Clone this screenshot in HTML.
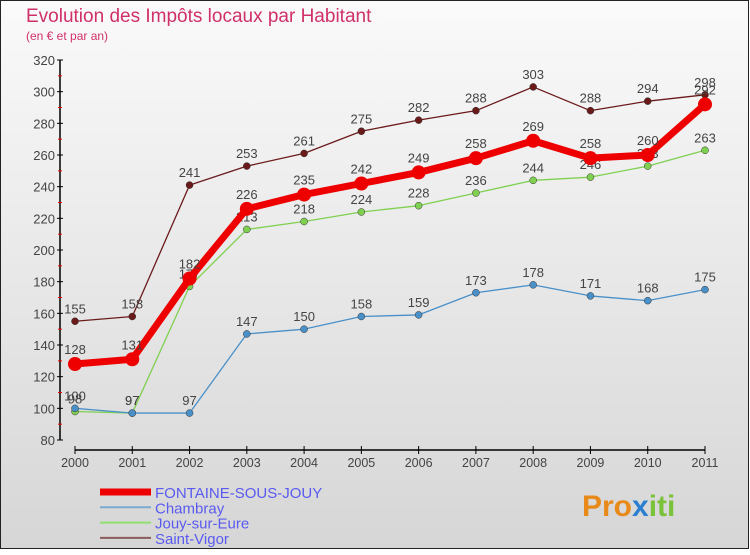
<!DOCTYPE html>
<html><head><meta charset="utf-8"><style>
body{margin:0;width:750px;height:550px;overflow:hidden;font-family:"Liberation Sans",sans-serif}
</style></head><body>
<svg width="750" height="550" xmlns="http://www.w3.org/2000/svg">
<defs><linearGradient id="bg" x1="0" y1="0" x2="0" y2="1"><stop offset="0" stop-color="#fafafa"/><stop offset="1" stop-color="#d6d6d6"/></linearGradient></defs>
<rect x="0.5" y="0.5" width="748" height="548" fill="url(#bg)" stroke="#222"/>
<text x="26" y="22" font-size="19" fill="#d0306a">Evolution des Impôts locaux par Habitant</text>
<text x="26" y="40" font-size="12" fill="#d0306a">(en € et par an)</text>
<g id="axes"></g>
<g id="series"></g>
<g id="legend"></g>
<text x="582" y="516" font-size="30" font-weight="bold" fill="#e88a1a">Pro<tspan fill="#2a7fd0">x</tspan><tspan fill="#7ac23a">iti</tspan></text>
</svg>
<script>
const years=["2000","2001","2002","2003","2004","2005","2006","2007","2008","2009","2010","2011"];
const fontaine=[128,131,182,226,235,242,249,258,269,258,260,292];
const chambray=[100,97,97,147,150,158,159,173,178,171,168,175];
const jouy=[98,97,177,213,218,224,228,236,244,246,253,263];
const vigor=[155,158,241,253,261,275,282,288,303,288,294,298];
const yTicks=[80,100,120,140,160,180,200,220,240,260,280,300,320];
const NS="http://www.w3.org/2000/svg";
const X=i=>75+i*(630/11);
const Y=v=>440-(v-80)*380/240;
function mk(t,a,p){const e=document.createElementNS(NS,t);for(const k in a)e.setAttribute(k,a[k]);p.appendChild(e);return e;}
const ax=document.getElementById('axes');
let l=mk('line',{x1:60,y1:60,x2:60,y2:440,stroke:'#000','stroke-width':1.5},ax);


l=mk('line',{x1:75,y1:450,x2:705,y2:450,stroke:'#000','stroke-width':1.5},ax);


yTicks.forEach((v,i)=>{
  mk('line',{x1:57,y1:Y(v),x2:63,y2:Y(v),stroke:'#000'},ax);
  if(i<yTicks.length-1) mk('line',{x1:58,y1:Y(v+10),x2:62,y2:Y(v+10),stroke:'#e00'},ax);
  const t=mk('text',{x:55,y:Y(v)+5,'text-anchor':'end','font-size':13,fill:'#444'},ax);
  t.textContent=v;
  
  
});
years.forEach((y,i)=>{
  mk('line',{x1:X(i),y1:446,x2:X(i),y2:454,stroke:'#000'},ax);
  const t=mk('text',{x:X(i),y:467,'text-anchor':'middle','font-size':12.5,fill:'#444'},ax);
  t.textContent=y;
  
  
});
const sg=document.getElementById('series');
const series=[
 {name:'saint-vigor',d:vigor,c:'#6b1a1a',w:1.3,r:3.5},
 {name:'jouy-sur-eure',d:jouy,c:'#7fd050',w:1.3,r:3.5},
 {name:'chambray',d:chambray,c:'#4a90c8',w:1.3,r:3.5},
 {name:'fontaine-sous-jouy',d:fontaine,c:'#ee0000',w:7,r:7}
];
series.forEach(s=>{
  const g=mk('g',{},sg);
  
  
  const p=mk('polyline',{points:s.d.map((v,i)=>X(i)+','+Y(v)).join(' '),fill:'none',stroke:s.c,'stroke-width':s.w,'stroke-linejoin':'round'},g);
  
  
  s.d.forEach((v,i)=>{
    const c=mk('circle',{cx:X(i),cy:Y(v),r:s.r,fill:s.c,stroke:s.w>2?'none':'#333','stroke-width':0.5},g);
    
    
    const t=mk('text',{x:X(i),y:Y(v)-(s.w>2?10:8),'text-anchor':'middle','font-size':13,fill:'#444'},g);
    t.textContent=v;
    
    
  });
});
const lg=document.getElementById('legend');
const leg=[['FONTAINE-SOUS-JOUY','#ee0000',7],['Chambray','#7aaad0',2],['Jouy-sur-Eure','#90e070',2],['Saint-Vigor','#8b5a5a',2]];
leg.forEach((e,i)=>{
  const y=492+i*15.3;
  const ln=mk('line',{x1:100,y1:y,x2:151,y2:y,stroke:e[1],'stroke-width':e[2]},lg);
  
  
  const t=mk('text',{x:155,y:y+6,'font-size':15,fill:'#5a5af0'},lg);
  t.textContent=e[0];
  
  
});
</script>
</body></html>
